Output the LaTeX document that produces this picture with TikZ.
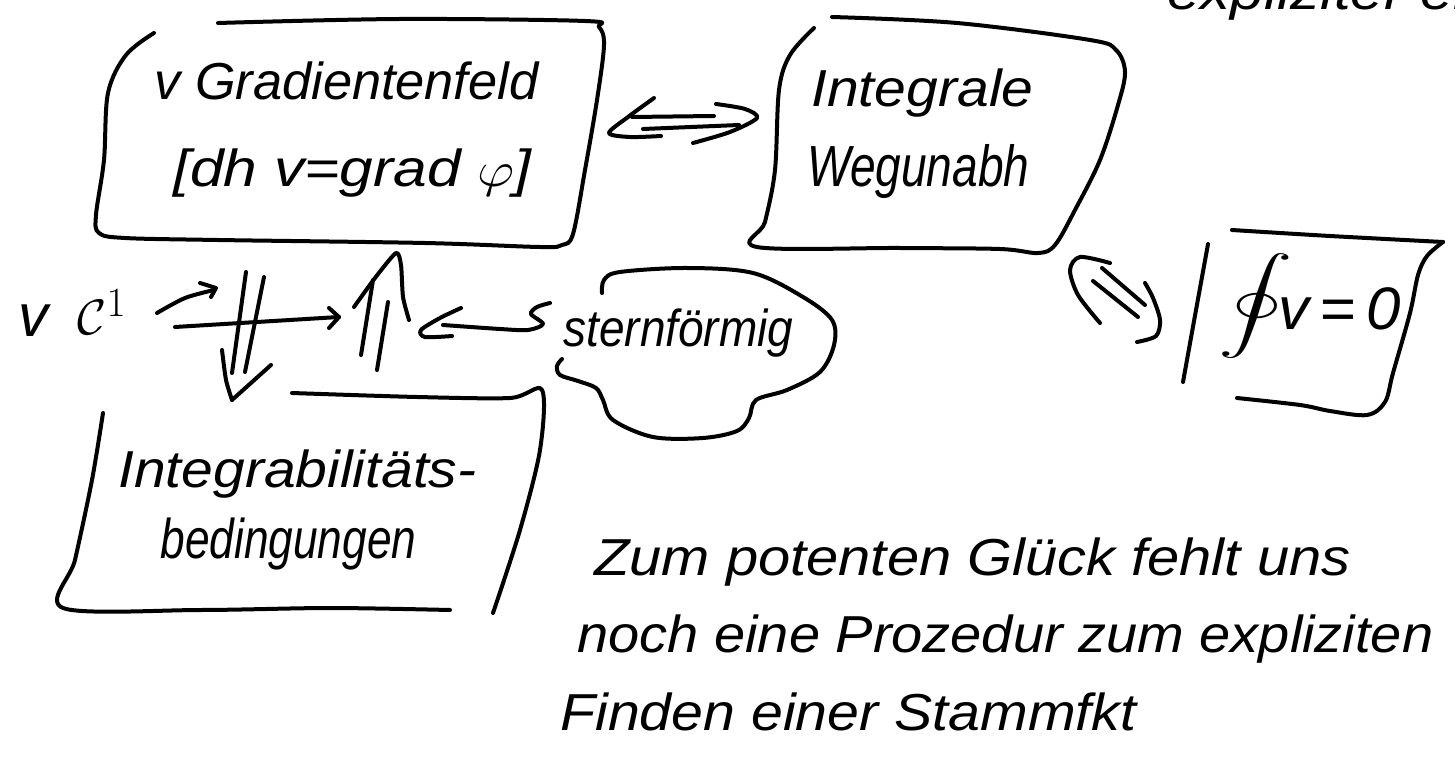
\documentclass[tikz,border=0pt]{standalone}
\usepackage{exscale}
\usepackage{fontspec}
\setmainfont{Liberation Sans}
\usepackage{graphicx}
\newcommand{\hwfit}[2]{\resizebox{#1pt}{\height}{#2}}
\begin{document}
\begin{tikzpicture}[x=0.5pt,y=-0.5pt,
  pen/.style={line width=2pt,line cap=round,line join=round},
  hw/.style={inner sep=0pt,anchor=base west,font=\fontsize{26}{30}\selectfont\itshape}]
\fill[white] (0,0) rectangle (1455,764);
\useasboundingbox (0,0) rectangle (1455,764);

% ---------- texts ----------
\node[hw] (gf1) at (154,100) {\hwfit{192}{v Gradientenfeld}};
\node[hw] (gf2) at (173,187) {\hwfit{179}{[dh v=grad $\varphi$]}};
\node[hw] (iw1) at (811,107) {\hwfit{111}{Integrale}};
\node[hw] (iw2) at (807,187) {\hwfit{111}{\fontsize{29}{32}\selectfont Wegunabh}};
\node[hw] (oint) at (1218,318) {\scalebox{1.5}[0.95]{$\displaystyle\oint$}};
\node[hw] (veq) at (1278,330) {\hwfit{61}{\fontsize{30}{34}\selectfont v\,=\,0}};
\node[hw,font=\fontsize{30}{34}\selectfont\itshape] (vv) at (18,337) {v};
\node[hw,font=\fontsize{30}{34}\selectfont] (cc) at (77,335) {$\mathcal{C}^{1}$};
\node[hw] (stern) at (563,347) {\hwfit{115}{sternförmig}};
\node[hw] (ib1) at (118,487) {\hwfit{179}{Integrabilitäts-}};
\node[hw] (ib2) at (160,558) {\hwfit{128}{\fontsize{28}{32}\selectfont bedingungen}};
\node[hw] (z1) at (594,575) {\hwfit{378}{Zum potenten Glück fehlt uns}};
\node[hw] (z2) at (577,652) {\hwfit{428}{noch eine Prozedur zum expliziten}};
\node[hw] (z3) at (560,730) {\hwfit{288}{Finden einer Stammfkt}};
\begin{scope}
  \clip (1100,0) rectangle (1455,60);
  \node[hw] (partial) at (1167,10) {\hwfit{160}{expliziter en}};
\end{scope}

% ---------- box 1 ----------
\draw[pen] plot[smooth,tension=0.55] coordinates {(154,33) (126,55) (108,93) (104,160) (96,215) (99,233) (125,238) (218,240) (425,243) (540,247) (562,245) (573,234) (585,170) (597,100) (604,45) (599,27) (585,21) (400,19) (218,23)};
% ---------- box 2 ----------
\draw[pen] plot[smooth,tension=0.55] coordinates {(814,28) (790,55) (779,90) (775,170) (765,222) (757,247) (900,248) (1000,249) (1038,253) (1055,245) (1075,210) (1100,160) (1118,105) (1125,72) (1116,50) (1090,40) (957,23) (832,17)};
% ---------- box 3 ----------
\draw[pen] plot[smooth,tension=0.5] coordinates {(1208,244) (1196,310) (1183,382)};
\draw[pen] plot[smooth,tension=0.5] coordinates {(1232,230) (1330,236) (1443,242)};
\draw[pen] plot[smooth,tension=0.55] coordinates {(1443,242) (1427,256) (1418,275) (1410,313) (1393,373) (1385,402) (1367,415) (1330,411) (1300,405) (1237,398)};
% ---------- box 4 ----------
\draw[pen] plot[smooth,tension=0.5] coordinates {(103,413) (92,480) (75,560) (63,608) (200,610) (330,608) (450,610)};
\draw[pen] plot[smooth,tension=0.5] coordinates {(292,393) (417,397) (510,398) (542,390) (540,450) (520,530) (493,613)};
% ---------- cloud ----------
\draw[pen] plot[smooth,tension=0.55] coordinates {(602,293) (604,280) (620,272) (687,268) (753,273) (803,297) (832,320) (834,345) (820,372) (787,390) (756,400) (749,418) (737,431) (703,438) (653,437) (613,420) (603,400) (596,388) (578,381) (560,375) (557,366) (562,359)};

% ---------- <=> ----------
\draw[pen] plot[smooth,tension=0.5] coordinates {(654,98) (628,117) (609,133) (630,137) (661,136)};
\draw[pen] (632,117) -- (714,116);
\draw[pen] (643,129) -- (739,125);
\draw[pen] plot[smooth,tension=0.5] coordinates {(716,104) (745,109) (757,118) (730,132) (693,143)};

% ---------- diagonal double arrow ----------
\draw[pen] plot[smooth,tension=0.5] coordinates {(1100,323) (1078,295) (1070,270) (1080,257) (1110,263)};
\draw[pen] (1102,268) -- (1145,305);
\draw[pen] (1093,281) -- (1138,317);
\draw[pen] plot[smooth,tension=0.5] coordinates {(1145,283) (1153,298) (1160,320) (1156,336) (1137,342)};

% ---------- small arrow after C1 ----------
\draw[pen] plot[smooth,tension=0.5] coordinates {(157,313) (185,298) (214,290)};
\draw[pen] (200,283) -- (216,288) -- (211,297);
% ---------- long arrow ----------
\draw[pen] (175,327) -- (339,317);
\draw[pen] (329,308) -- (339,317) -- (329,328);
% ---------- double arrow down ----------
\draw[pen] (246,272) -- (232,373);
\draw[pen] (264,277) -- (245,372);
\draw[pen] plot[smooth,tension=0.4] coordinates {(222,350) (226,380) (232,400)};
\draw[pen] (232,400) -- (271,365);
% ---------- double arrow up ----------
\draw[pen] (373,280) -- (361,355);
\draw[pen] (388,302) -- (377,370);
\draw[pen] plot[smooth,tension=0.4] coordinates {(354,307) (375,278) (396,253) (401,265) (403,297) (409,320)};
% ---------- arrow from sternfoermig ----------
\draw[pen] plot[smooth,tension=0.5] coordinates {(461,308) (440,318) (421,330) (425,337) (452,336)};
\draw[pen] plot[smooth,tension=0.5] coordinates {(443,325) (500,329) (528,330) (543,324) (531,314) (537,307) (550,303)};
\end{tikzpicture}
\end{document}
